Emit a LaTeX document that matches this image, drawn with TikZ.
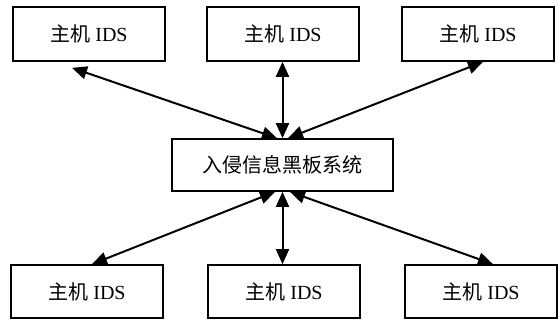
\documentclass[tikz,border=0pt]{standalone}
\usepackage{fontspec}
\setmainfont{Liberation Serif}
\newfontfamily\cjk{Noto Sans CJK SC}
\usetikzlibrary{arrows.meta}
\tikzset{
  box/.style={draw, line width=1.7pt, minimum height=54pt, inner sep=0pt, font=\fontsize{20}{24}\selectfont},
  idsbox/.style={box, minimum width=152pt},
  link/.style={line width=2pt, {Triangle[length=15pt,width=13pt]}-{Triangle[length=15pt,width=13pt]}}
}
\begin{document}
\begin{tikzpicture}[x=1pt,y=-1pt]
\useasboundingbox (0,0) rectangle (558,323);
\node[idsbox] (t1) at (89,34) {{\cjk 主机} IDS};
\node[idsbox] (t2) at (283,34) {{\cjk 主机} IDS};
\node[idsbox] (t3) at (478,34) {{\cjk 主机} IDS};
\node[box, minimum width=221pt, minimum height=52pt] (c) at (282.5,165) {\cjk 入侵信息黑板系统};
\node[idsbox, minimum height=53pt] (b1) at (87,291.5) {{\cjk 主机} IDS};
\node[idsbox, minimum height=53pt] (b2) at (284,291.5) {{\cjk 主机} IDS};
\node[idsbox, minimum height=53pt] (b3) at (481,291.5) {{\cjk 主机} IDS};
\draw[link] ([xshift=-17pt,yshift=-6pt]t1.south) -- ([xshift=-5.5pt]c.north);
\draw[link] (t2.south -| c.north) -- (c.north);
\draw[link] ([xshift=5pt]t3.south) -- ([xshift=5.5pt]c.north);
\draw[link] ([xshift=-7.5pt]c.south) -- ([xshift=5pt]b1.north);
\draw[link] (c.south) -- (b2.north -| c.south);
\draw[link] ([xshift=7.5pt]c.south) -- ([xshift=12pt]b3.north);
\end{tikzpicture}
\end{document}
